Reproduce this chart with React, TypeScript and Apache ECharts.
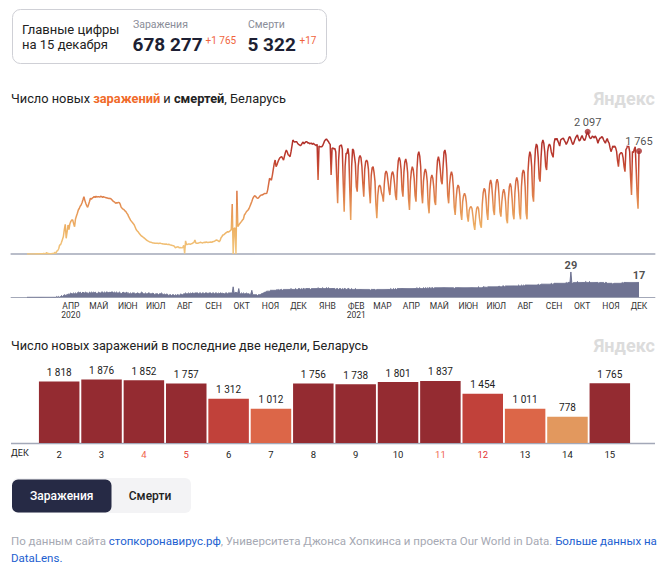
import React, { useEffect, useRef } from "react";
import * as echarts from "echarts";

const FONT = "Roboto, 'Noto Sans', sans-serif";

// Summary header
const summaryDate = "на 15 декабря";
const totalCases = 678277;
const newCases = 1765;
const totalDeaths = 5322;
const newDeaths = 17;

// Daily new infections, Belarus, from 2020-02-28 to 2021-12-15 (weeks Fri..Thu)
const infections: number[] = [
  1, 0, 0, 0, 0, 0, 0,
  0, 0, 0, 3, 0, 3, 0,
  6, 4, 6, 4, 10, 5, 2,
  25, 5, 10, 5, 5, 5, 8,
  10, 12, 30, 10, 50, 60, 90,
  155, 160, 200, 250, 300, 420, 509,
  269, 380, 497, 420, 520, 560, 583,
  583, 520, 469, 600, 650, 700, 755,
  780, 820, 840, 880, 930, 983, 920,
  869, 830, 800, 850, 900, 955, 940,
  960, 970, 983, 970, 990, 975, 983,
  980, 975, 990, 983, 970, 983, 975,
  970, 965, 960, 955, 950, 955, 945,
  930, 910, 900, 890, 869, 880, 875,
  886, 880, 850, 800, 783, 770, 760,
  740, 726, 700, 680, 640, 612, 580,
  560, 540, 520, 497, 460, 420, 400,
  383, 360, 340, 320, 305, 297, 280,
  270, 255, 240, 230, 220, 211, 205,
  200, 195, 190, 188, 185, 183, 185,
  183, 180, 185, 183, 178, 175, 170,
  172, 168, 170, 166, 165, 166, 160,
  155, 150, 145, 143, 130, 108, 115,
  120, 125, 108, 110, 108, 105, 110,
  150, 10, 225, 160, 165, 170, 170,
  166, 175, 180, 190, 200, 240, 190,
  185, 183, 190, 195, 200, 195, 190,
  195, 200, 198, 205, 200, 195, 200,
  200, 205, 200, 210, 215, 220, 230,
  240, 235, 225, 211, 230, 280, 300,
  326, 330, 345, 360, 370, 383, 375,
  390, 400, 420, 857, 0, 440, 446,
  0, 1086, 470, 497, 520, 540, 560,
  583, 600, 669, 690, 720, 740, 755,
  780, 820, 860, 900, 950, 980, 1000,
  990, 970, 955, 960, 980, 1000, 1010,
  1012, 1020, 1030, 1040, 1035, 1040, 1100,
  1200, 1298, 1280, 1269, 1350, 1450, 1550,
  1612, 1497, 1530, 1580, 1620, 1650, 1660,
  1669, 1640, 1612, 1680, 1740, 1784, 1750,
  1700, 1690, 1669, 1750, 1850, 1955, 1930,
  1920, 1926, 1926, 1900, 1880, 1870, 1860,
  1870, 1900, 1920, 1890, 1910, 1926, 1926,
  1900, 1910, 1890, 1898, 1898, 1880, 1900,
  1880, 1870, 1860, 1880, 1269, 1850, 1840,
  1840, 1840, 1860, 1900, 1940, 1960, 1972,
  1950, 1930, 1900, 1880, 1355, 1812, 1820,
  1800, 1812, 1750, 1300, 869, 1600, 1850,
  1860, 1870, 1800, 1200, 726, 1500, 1727,
  1720, 1812, 1700, 1100, 583, 1500, 1800,
  1780, 1669, 1550, 1150, 1069, 1500, 1650,
  1687, 1650, 1500, 1200, 983, 1450, 1580,
  1612, 1580, 1450, 1100, 869, 1350, 1480,
  1497, 1400, 1250, 850, 612, 1000, 1150,
  1183, 1150, 1050, 1000, 897, 1200, 1380,
  1424, 1380, 1250, 1100, 1012, 1250, 1380,
  1412, 1350, 1200, 1000, 926, 1400, 1600,
  1658, 1600, 1450, 1100, 983, 1400, 1580,
  1629, 1560, 1400, 950, 755, 1250, 1420,
  1497, 1450, 1300, 1000, 897, 1450, 1700,
  1755, 1680, 1500, 1050, 869, 1250, 1400,
  1458, 1400, 1250, 850, 698, 1100, 1300,
  1355, 1300, 1150, 900, 840, 1350, 1600,
  1669, 1600, 1450, 1250, 1195, 1500, 1750,
  1784, 1700, 1450, 1000, 869, 1200, 1350,
  1412, 1350, 1150, 800, 669, 950, 1120,
  1183, 1150, 1000, 700, 583, 900, 1000,
  1040, 1000, 880, 650, 555, 750, 800,
  812, 780, 650, 500, 412, 650, 780,
  812, 780, 620, 500, 452, 850, 1050,
  1127, 1100, 950, 700, 583, 1000, 1200,
  1269, 1200, 1000, 750, 669, 1050, 1230,
  1281, 1220, 1000, 720, 640, 900, 1050,
  1110, 1050, 900, 600, 526, 950, 1150,
  1212, 1150, 950, 680, 595, 1050, 1250,
  1315, 1250, 1050, 700, 595, 1150, 1380,
  1441, 1400, 1150, 700, 595, 1400, 1650,
  1755, 1700, 1500, 1000, 897, 1500, 1800,
  1887, 1850, 1650, 1300, 1241, 1650, 1900,
  1955, 1900, 1750, 1500, 1441, 1750, 1850,
  1887, 1850, 1750, 1700, 1658, 1900, 1984,
  1960, 1984, 1940, 1900, 1850, 1955, 1970,
  1980, 1984, 1950, 1920, 1880, 1910, 1950,
  2000, 2012, 1970, 1920, 1880, 1898, 1950,
  1990, 2020, 2041, 1980, 1940, 1955, 2000,
  2030, 1990, 1955, 1950, 2000, 2060, 2097,
  2050, 2001, 1980, 1990, 2024, 2010, 1990,
  2024, 2000, 1960, 1898, 1950, 1984, 1990,
  2012, 2000, 1960, 1926, 1900, 1950, 1980,
  1926, 1900, 1820, 1755, 1800, 1852, 1830,
  1852, 1820, 1760, 1600, 1497, 1700, 1727,
  1740, 1727, 1650, 1500, 1412, 1790, 1818,
  1876, 1852, 1757, 1312, 1012, 1756, 1738,
  1801, 1837, 1454, 1011, 778, 1765,
];

// Daily deaths, same dates
const deaths: number[] = [
  0, 0, 0, 0, 0, 0, 0,
  0, 0, 0, 0, 0, 0, 0,
  0, 0, 0, 0, 0, 0, 0,
  0, 0, 0, 0, 0, 0, 0,
  0, 0, 0, 0, 1, 0, 1,
  0, 1, 2, 1, 2, 3, 2,
  3, 2, 4, 3, 4, 5, 4,
  4, 5, 4, 5, 4, 5, 6,
  5, 6, 4, 5, 6, 5, 5,
  6, 5, 5, 4, 6, 5, 6,
  5, 6, 5, 6, 5, 4, 5,
  6, 5, 5, 6, 6, 5, 6,
  5, 6, 6, 5, 6, 5, 6,
  6, 6, 5, 6, 5, 6, 5,
  5, 6, 5, 4, 5, 6, 5,
  5, 5, 6, 4, 5, 4, 5,
  4, 5, 5, 5, 4, 4, 5,
  5, 4, 4, 5, 6, 5, 4,
  4, 5, 4, 4, 5, 5, 4,
  4, 4, 5, 4, 3, 4, 4,
  4, 3, 4, 4, 5, 4, 3,
  4, 3, 3, 4, 3, 2, 3,
  3, 2, 3, 3, 2, 3, 2,
  3, 3, 2, 3, 4, 3, 3,
  4, 4, 5, 4, 4, 5, 4,
  5, 4, 5, 5, 4, 5, 5,
  5, 5, 4, 5, 5, 4, 5,
  5, 4, 5, 5, 5, 4, 5,
  5, 5, 4, 5, 5, 4, 5,
  5, 4, 5, 4, 5, 5, 4,
  5, 4, 4, 5, 5, 4, 5,
  5, 5, 5, 5, 12, 5, 5,
  6, 5, 5, 10, 4, 4, 5,
  4, 5, 4, 4, 5, 4, 4,
  4, 3, 4, 8, 3, 3, 3,
  3, 3, 2, 3, 3, 3, 4,
  4, 5, 5, 6, 6, 7, 7,
  7, 7, 8, 8, 8, 8, 8,
  8, 8, 9, 8, 9, 8, 9,
  9, 8, 9, 9, 9, 9, 9,
  9, 9, 9, 10, 9, 9, 9,
  9, 10, 9, 9, 10, 10, 9,
  10, 9, 10, 10, 9, 10, 10,
  10, 10, 10, 9, 10, 10, 10,
  10, 10, 10, 10, 11, 10, 10,
  10, 10, 11, 10, 10, 10, 11,
  10, 11, 10, 10, 10, 10, 10,
  10, 10, 9, 10, 10, 9, 10,
  10, 9, 10, 9, 10, 10, 9,
  9, 10, 10, 9, 9, 10, 9,
  9, 9, 10, 9, 9, 9, 9,
  9, 9, 9, 9, 9, 9, 9,
  9, 9, 9, 9, 8, 9, 9,
  9, 9, 9, 8, 9, 9, 9,
  9, 9, 9, 9, 9, 9, 9,
  9, 9, 9, 9, 9, 10, 9,
  9, 10, 9, 10, 9, 10, 10,
  10, 10, 10, 10, 10, 10, 10,
  10, 10, 10, 10, 10, 10, 10,
  10, 10, 10, 10, 10, 11, 10,
  10, 11, 10, 10, 10, 11, 10,
  11, 10, 11, 10, 11, 11, 10,
  11, 11, 10, 11, 11, 11, 11,
  11, 11, 11, 11, 11, 11, 11,
  11, 11, 11, 11, 11, 11, 11,
  11, 11, 11, 10, 11, 11, 11,
  11, 11, 11, 11, 11, 11, 11,
  11, 11, 11, 11, 11, 11, 11,
  11, 11, 11, 11, 11, 11, 11,
  11, 12, 11, 11, 11, 11, 12,
  12, 11, 12, 11, 12, 12, 12,
  12, 12, 12, 12, 12, 12, 12,
  12, 12, 13, 12, 12, 12, 13,
  13, 12, 13, 13, 13, 13, 13,
  13, 13, 13, 13, 13, 13, 13,
  13, 13, 14, 13, 13, 14, 13,
  14, 13, 14, 14, 14, 14, 14,
  14, 14, 14, 14, 14, 14, 14,
  14, 14, 15, 14, 14, 15, 15,
  15, 15, 15, 15, 15, 15, 15,
  15, 15, 16, 15, 15, 16, 16,
  16, 16, 16, 16, 16, 16, 16,
  16, 16, 16, 16, 17, 16, 17,
  17, 17, 29, 17, 16, 17, 17,
  17, 17, 18, 17, 17, 17, 17,
  17, 17, 17, 17, 18, 17, 17,
  17, 18, 17, 17, 17, 17, 17,
  17, 17, 17, 17, 16, 17, 17,
  17, 17, 17, 16, 17, 17, 16,
  16, 16, 16, 16, 16, 15, 16,
  16, 16, 16, 16, 16, 16, 16,
  16, 17, 16, 17, 17, 17, 17,
  17, 17, 17, 17, 17, 17, 17,
  17, 17, 17, 17, 17, 17,
];

// Last two weeks (December 2021)
const barDays: number[] = [2, 3, 4, 5, 6, 7, 8, 9, 10, 11, 12, 13, 14, 15];
const barValues: number[] = [1818, 1876, 1852, 1757, 1312, 1012, 1756, 1738, 1801, 1837, 1454, 1011, 778, 1765];

const monthNames = ["ЯНВ", "ФЕВ", "МАР", "АПР", "МАЙ", "ИЮН", "ИЮЛ", "АВГ", "СЕН", "ОКТ", "НОЯ", "ДЕК"];
const yearLabelMonths: Record<string, string> = { "2020-04": "2020", "2021-02": "2021" };
const firstLabelMonth = "2020-04";

const PAD_BEFORE = 17;
const PAD_AFTER = 17;

const fmt = (v: number) => String(v).replace(/\B(?=(\d{3})+(?!\d))/g, " ");

function buildCategories(): string[] {
  const start = Date.UTC(2020, 1, 28) - PAD_BEFORE * 86400000;
  const n = PAD_BEFORE + infections.length + PAD_AFTER;
  const out: string[] = [];
  for (let i = 0; i < n; i++) {
    out.push(new Date(start + i * 86400000).toISOString().slice(0, 10));
  }
  return out;
}

function barColor(v: number) {
  if (v >= 1700) return "#942b31";
  if (v >= 1300) return "#c1413a";
  if (v >= 900) return "#dc6648";
  return "#e2985e";
}

function dayLabelColor(d: number) {
  const wd = new Date(Date.UTC(2021, 11, d)).getUTCDay();
  if (wd === 6) return "#f0644f";
  if (wd === 0) return "#e3342f";
  return "#222";
}

export default function App() {
  const ref = useRef<HTMLDivElement>(null);
  useEffect(() => {
    if (!ref.current) return;
    const chart = echarts.init(ref.current, undefined, { renderer: "svg" });
    const cats = buildCategories();
    const pre = new Array(PAD_BEFORE).fill(null);
    const post = new Array(PAD_AFTER).fill(null);
    const infData = [...pre, ...infections, ...post];
    const deathData = [...pre, ...deaths, ...post];

    const maxInf = Math.max(...infections);
    const peakIdx = infections.indexOf(maxInf);
    const lastIdx = infections.length - 1;
    const maxDeath = Math.max(...deaths);
    const deathPeakIdx = deaths.indexOf(maxDeath);

    const axisGray = "#a3a8b8";

    const option: any = {
      animation: false,
      textStyle: { fontFamily: FONT },
      grid: [
        { left: 11.14, top: 119.9, width: 643.7, height: 134.1 },
        { left: 11.14, top: 258, width: 643.7, height: 39.3 },
        { left: 38, top: 368.6, width: 593, height: 74.4 },
      ],
      xAxis: [
        {
          gridIndex: 0, type: "category", data: cats, boundaryGap: false,
          axisLine: { lineStyle: { color: axisGray, width: 1.5 } },
          axisTick: { show: false }, axisLabel: { show: false }, splitLine: { show: false },
        },
        {
          gridIndex: 1, type: "category", data: cats, boundaryGap: false,
          axisLine: { lineStyle: { color: axisGray, width: 1.2 } },
          axisTick: { show: false }, splitLine: { show: false },
          axisLabel: {
            interval: (_i: number, v: string) => v.slice(8) === "15" && v.slice(0, 7) >= firstLabelMonth,
            formatter: (v: string) => {
              const m = monthNames[parseInt(v.slice(5, 7), 10) - 1];
              const y = yearLabelMonths[v.slice(0, 7)];
              return y ? m + "\n" + y : m;
            },
            fontSize: 8.5, color: "#333", margin: 4, lineHeight: 9, fontFamily: FONT,
          },
        },
        {
          gridIndex: 2, type: "category", data: barDays.map(String),
          axisLine: { show: false }, axisTick: { show: false },
          axisLabel: {
            fontSize: 9.5, margin: 6, fontFamily: FONT,
            color: (v: string) => dayLabelColor(parseInt(v, 10)),
          },
        },
      ],
      yAxis: [
        { gridIndex: 0, type: "value", min: 0, max: 2300, show: false },
        { gridIndex: 1, type: "value", min: 0, max: 45, show: false },
        { gridIndex: 2, type: "value", min: 0, max: 2200, show: false },
      ],
      visualMap: [
        {
          type: "continuous", show: false, seriesIndex: 0, dimension: 1, min: 0, max: 2100,
          inRange: { color: ["#f2c67e", "#eeb366", "#e48f52", "#d4643f", "#bc3a2d", "#a82a28"] },
        },
      ],
      series: [
        {
          type: "line", xAxisIndex: 0, yAxisIndex: 0, data: infData,
          showSymbol: false, connectNulls: false, lineStyle: { width: 1.5 }, z: 3,
        },
        {
          type: "scatter", xAxisIndex: 0, yAxisIndex: 0, z: 5,
          data: [
            [PAD_BEFORE + peakIdx, infections[peakIdx]],
            [PAD_BEFORE + lastIdx, infections[lastIdx]],
          ],
          symbolSize: 6, itemStyle: { color: "#a8292b" },
          label: {
            show: true, position: "top", distance: 1, fontSize: 11, color: "#222",
            textBorderColor: "#fff", textBorderWidth: 2, fontFamily: FONT,
            formatter: (p: any) => fmt(p.value[1]),
          },
        },
        {
          type: "line", xAxisIndex: 1, yAxisIndex: 1, data: deathData,
          showSymbol: false, lineStyle: { width: 1, color: "#6f7392" },
          itemStyle: { color: "#6f7392" },
          areaStyle: { color: "#6f7392", opacity: 1 },
        },
        {
          type: "scatter", xAxisIndex: 1, yAxisIndex: 1, symbolSize: 0,
          data: [
            [PAD_BEFORE + deathPeakIdx, deaths[deathPeakIdx]],
            [PAD_BEFORE + lastIdx, deaths[lastIdx]],
          ],
          label: {
            show: true, position: "top", distance: 1, fontSize: 11, color: "#222",
            fontWeight: "bold", fontFamily: FONT,
            formatter: (p: any) => fmt(p.value[1]),
          },
        },
        {
          type: "bar", xAxisIndex: 2, yAxisIndex: 2, barWidth: 40.5,
          data: barValues.map((v) => ({ value: v, itemStyle: { color: barColor(v) } })),
          label: {
            show: true, position: "top", distance: 4, fontSize: 10, color: "#222", fontFamily: FONT,
            formatter: (p: any) => fmt(p.value),
          },
        },
      ],
      graphic: [
        {
          type: "rect", shape: { x: 12.5, y: 9.5, width: 314, height: 54, r: 8 },
          style: { fill: "#fff", stroke: "#cfd0d6", lineWidth: 1 },
        },
        { type: "text", x: 22, y: 29, style: { text: "Главные цифры", font: `13px ${FONT}`, fill: "#222", verticalAlign: "middle" } },
        { type: "text", x: 22, y: 44.5, style: { text: summaryDate, font: `13px ${FONT}`, fill: "#222", verticalAlign: "middle" } },
        { type: "text", x: 133, y: 24.5, style: { text: "Заражения", font: `10.5px ${FONT}`, fill: "#8a8d98", verticalAlign: "middle" } },
        { type: "text", x: 132.5, y: 44, style: { text: fmt(totalCases), font: `bold 19px ${FONT}`, fill: "#1d1f33", verticalAlign: "middle" } },
        { type: "text", x: 205.5, y: 40, style: { text: "+" + fmt(newCases), font: `10px ${FONT}`, fill: "#f0643c", verticalAlign: "middle" } },
        { type: "text", x: 248, y: 24.5, style: { text: "Смерти", font: `10.5px ${FONT}`, fill: "#8a8d98", verticalAlign: "middle" } },
        { type: "text", x: 247.5, y: 44, style: { text: fmt(totalDeaths), font: `bold 19px ${FONT}`, fill: "#1d1f33", verticalAlign: "middle" } },
        { type: "text", x: 299.5, y: 40, style: { text: "+" + fmt(newDeaths), font: `10px ${FONT}`, fill: "#f0643c", verticalAlign: "middle" } },
        {
          type: "text", x: 11, y: 98,
          style: {
            text: "{a|Число новых }{b|заражений}{a| и }{c|смертей}{a|, Беларусь}",
            verticalAlign: "middle",
            rich: {
              a: { fontSize: 12.8, fontFamily: FONT, fill: "#222" },
              b: { fontSize: 12.8, fontFamily: FONT, fontWeight: "bold", fill: "#f06a2a" },
              c: { fontSize: 12.8, fontFamily: FONT, fontWeight: "bold", fill: "#222" },
            },
          },
        },
        { type: "text", x: 655, y: 98, style: { text: "Яндекс", font: `bold 18px ${FONT}`, fill: "#dcdcdc", align: "right", verticalAlign: "middle" } },
        { type: "text", x: 11, y: 345, style: { text: "Число новых заражений в последние две недели, Беларусь", font: `12.7px ${FONT}`, fill: "#222", verticalAlign: "middle" } },
        { type: "text", x: 655, y: 345, style: { text: "Яндекс", font: `bold 18px ${FONT}`, fill: "#dcdcdc", align: "right", verticalAlign: "middle" } },
        { type: "line", shape: { x1: 11, y1: 443.5, x2: 655, y2: 443.5 }, style: { stroke: axisGray, lineWidth: 1.5 } },
        { type: "text", x: 11, y: 453, style: { text: "ДЕК", font: `9px ${FONT}`, fill: "#222", verticalAlign: "middle" } },
        { type: "rect", shape: { x: 12, y: 478, width: 179, height: 35, r: 6 }, style: { fill: "#f3f3f5" } },
        { type: "rect", shape: { x: 12, y: 479.5, width: 99.5, height: 33, r: 6 }, style: { fill: "#262a45" } },
        { type: "text", x: 61.75, y: 496, style: { text: "Заражения", font: `500 12px ${FONT}`, fill: "#fff", align: "center", verticalAlign: "middle" } },
        { type: "text", x: 150, y: 496, style: { text: "Смерти", font: `500 12px ${FONT}`, fill: "#222", align: "center", verticalAlign: "middle" } },
        {
          type: "text", x: 11, y: 541,
          style: {
            text: "{g|По данным сайта }{l|стопкоронавирус.рф}{g|, Университета Джонса Хопкинса и проекта Our World in Data. }{l|Больше данных на}",
            verticalAlign: "middle",
            rich: {
              g: { fontSize: 11.5, fontFamily: FONT, fill: "#a6a9b3" },
              l: { fontSize: 11.5, fontFamily: FONT, fill: "#2260d0" },
            },
          },
        },
        { type: "text", x: 11, y: 557.5, style: { text: "DataLens.", font: `11.5px ${FONT}`, fill: "#2260d0", verticalAlign: "middle" } },
      ],
    };
    chart.setOption(option);
    return () => chart.dispose();
  }, []);
  return <div ref={ref} style={{ position: "absolute", left: 0, top: 0, width: 671, height: 570 }} />;
}
